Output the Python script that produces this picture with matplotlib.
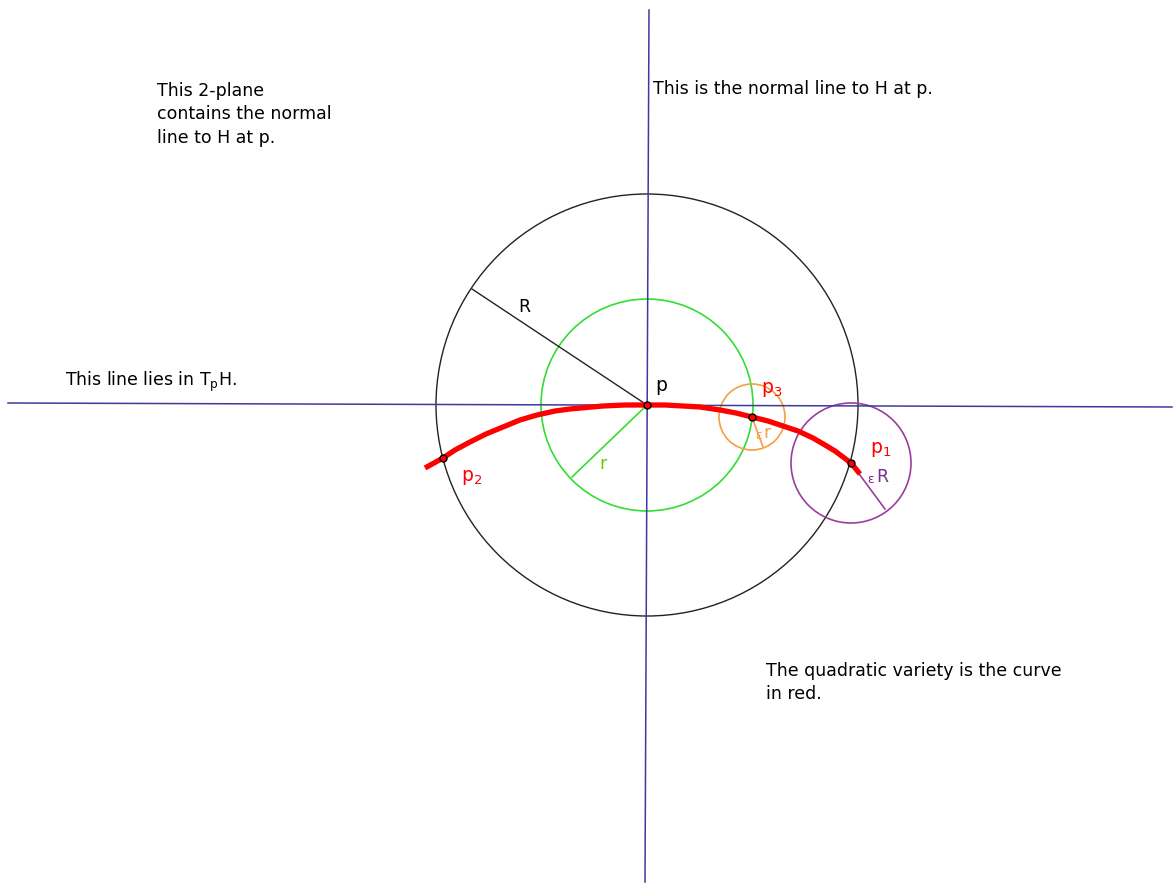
import matplotlib
matplotlib.use("Agg")
import matplotlib.pyplot as plt
from matplotlib.patches import Circle

# picture coordinates (pixels, y downward)
p = (647, 405)
p1 = (851, 463)
p2 = (443, 458)
p3 = (752, 417)

R_big = 211
r_small = 106
eps_r = 33
eps_R = 60

# end points of the radius segments
R_end = (472, 289)
r_end = (572, 477)
er_end = (763, 447)
eR_end = (885, 509)

# red curve
curve_x = [425, 443, 455, 470, 486, 503, 520, 537, 555, 570, 603, 625, 647, 665,
           683, 700, 720, 736, 752, 768, 783, 798, 813, 825, 835, 843, 851, 860]
curve_y = [468, 458, 450, 442, 434, 427, 420, 415, 411, 409, 406, 405, 405, 405,
           406, 407, 410, 413, 417, 421, 426, 431, 438, 445, 451, 457, 463, 474]

# the two axis lines
horiz_x = [8, 1172]
horiz_y = [403, 407]
vert_x = [649, 645]
vert_y = [10, 882]

navy = "#3b3b9c"
fig = plt.figure(figsize=(11.74, 8.84), dpi=100)
ax = fig.add_axes([0, 0, 1, 1])
ax.set_xlim(0, 1174)
ax.set_ylim(884, 0)
ax.set_aspect("equal")
ax.axis("off")

ax.plot(horiz_x, horiz_y, color=navy, lw=1.1)
ax.plot(vert_x, vert_y, color=navy, lw=1.1)

ax.add_patch(Circle(p, R_big, fill=False, ec="#222222", lw=1.0))
ax.add_patch(Circle(p, r_small, fill=False, ec="#33dd33", lw=1.2))
ax.add_patch(Circle(p3, eps_r, fill=False, ec="#f5a040", lw=1.2))
ax.add_patch(Circle(p1, eps_R, fill=False, ec="#9a3da0", lw=1.2))

ax.plot([p[0], R_end[0]], [p[1], R_end[1]], color="#222222", lw=1.0)
ax.plot([p[0], r_end[0]], [p[1], r_end[1]], color="#33dd33", lw=1.2)
ax.plot([p3[0], er_end[0]], [p3[1], er_end[1]], color="#f5a040", lw=1.2)
ax.plot([p1[0], eR_end[0]], [p1[1], eR_end[1]], color="#9a3da0", lw=1.2)

ax.plot(curve_x, curve_y, color="#ff0000", lw=3.8, solid_joinstyle="round",
        solid_capstyle="butt", zorder=4)

for pt in [p, p1, p2, p3]:
    ax.plot(pt[0], pt[1], "o", ms=5, mfc="#ff0000", mec="black", mew=1.0, zorder=5)

fs = 12.5
ax.text(157, 82, "This 2-plane\ncontains the normal\nline to H at p.", fontsize=fs,
        va="top", ha="left", linespacing=1.38)
ax.text(653, 80, "This is the normal line to H at p.", fontsize=fs, va="top", ha="left")
ax.text(65, 370, r"This line lies in T$_\mathregular{p}$H.", fontsize=fs, va="top", ha="left")
ax.text(766, 662, "The quadratic variety is the curve\nin red.", fontsize=fs,
        va="top", ha="left", linespacing=1.35)

ax.text(518, 298, "R", fontsize=fs, va="top")
ax.text(655, 376, "p", fontsize=fs + 1, va="top")
ax.text(599, 455, "r", fontsize=fs, va="top", color="#66cc00")
ax.text(461, 468, r"p$_\mathregular{2}$", fontsize=fs + 1, va="top", color="#ff0000")
ax.text(761, 380, r"p$_\mathregular{3}$", fontsize=fs + 1, va="top", color="#ff0000")
ax.text(870, 440, r"p$_\mathregular{1}$", fontsize=fs + 1, va="top", color="#ff0000")
ax.text(755, 429, "ε", fontsize=9, va="top", color="#f5a040")
ax.text(763, 424, "r", fontsize=fs, va="top", color="#f5a040")
ax.text(867, 473, "ε", fontsize=9, va="top", color="#7a2d90")
ax.text(876, 468, "R", fontsize=fs, va="top", color="#7a2d90")

fig.savefig("out.png", dpi=100)
